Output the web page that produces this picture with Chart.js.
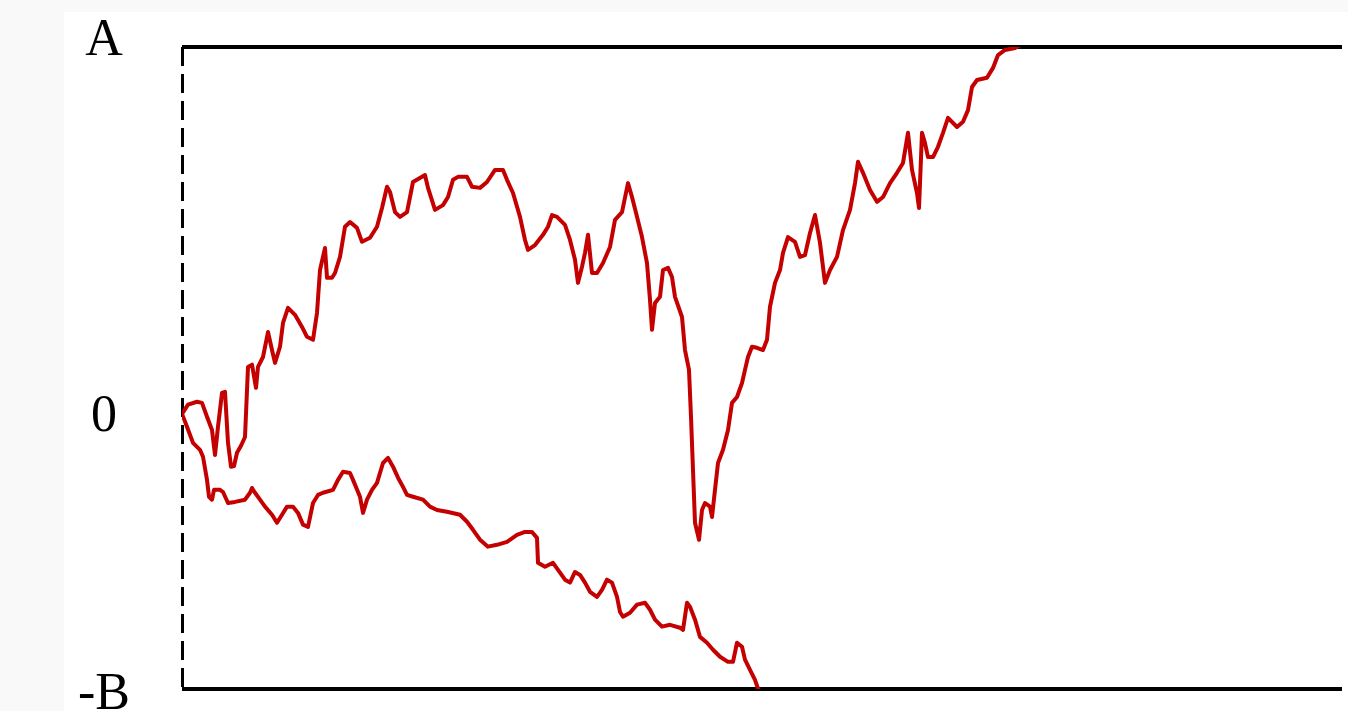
<!DOCTYPE html>
<html>
<head>
<meta charset="utf-8">
<script src="https://cdn.jsdelivr.net/npm/chart.js@4.4.1/dist/chart.umd.min.js"></script>
<style>
  html, body { margin: 0; padding: 0; background: #f9f9f9; overflow: hidden; }
  #panel { position: absolute; left: 64px; top: 12px; right: 0; bottom: 0; background: #ffffff; }
  #wrap { position: absolute; left: 0; top: 0; width: 1348px; height: 711px; }
</style>
</head>
<body>
<div id="panel"></div>
<div id="wrap"><canvas id="c" width="1348" height="711"></canvas></div>
<script>
// Axis scale: the top bound is "A", the bottom bound is "-B"
const tickValues = [-75, 0, 100];
const tickLabels = ['-B', '0', 'A'];
// small vertical nudge of each axis label (px, positive = down)
const tickNudge = [6, 3, -6];
const dayMax = 1160;

// Upper path: days since start and value
const upperDays = [
  0, 6, 15, 20, 25, 30, 33, 36, 40, 43,
  46, 49, 52, 55, 59, 63, 66, 70, 74, 76,
  81, 86, 90, 93, 98, 101, 106, 113, 120, 125,
  131, 135, 138, 143, 145, 150, 153, 158, 163, 168,
  175, 180, 188, 195, 200, 205, 208, 213, 218, 225,
  231, 243, 246, 253, 261, 266, 271, 276, 285, 290,
  298, 305, 313, 321, 325, 331, 338, 343, 346, 353,
  361, 366, 370, 375, 383, 388, 393, 396, 400, 403,
  406, 410, 415, 421, 428, 433, 440, 446, 450, 455,
  460, 465, 468, 470, 473, 478, 481, 486, 490, 493,
  500, 503, 507, 509, 511, 513, 517, 520, 523, 528,
  530, 533, 536, 541, 546, 550, 555, 560, 563, 566,
  570, 575, 581, 585, 588, 593, 598, 601, 606, 613,
  618, 623, 628, 633, 638, 643, 648, 655, 661, 668,
  673, 676, 681, 688, 695, 701, 708, 715, 721, 726,
  730, 735, 737, 740, 743, 746, 751, 756, 761, 766,
  775, 781, 786, 790, 795, 805, 811, 816, 823, 833,
  838
];
const upperValues = [
  0, 2.5, 3.3, 3.0, -0.8, -4.4, -11.2, -3.5, 5.7, 6.0,
  -7.9, -14.4, -14.2, -10.6, -8.7, -6.3, 12.8, 13.4, 7.1, 12.8,
  15.5, 22.3, 17.4, 13.9, 18.3, 24.8, 28.9, 27.0, 23.7, 21.0,
  20.2, 27.5, 39.2, 45.2, 37.1, 37.1, 38.4, 42.8, 51.0, 52.3,
  50.7, 46.9, 48.0, 51.0, 56.1, 61.9, 60.5, 55.0, 53.7, 55.0,
  63.2, 65.1, 61.6, 55.6, 56.9, 59.1, 63.8, 64.6, 64.6, 61.9,
  61.6, 63.2, 66.5, 66.5, 63.8, 60.2, 53.7, 47.4, 44.7, 46.0,
  48.8, 51.0, 54.2, 53.7, 51.5, 47.4, 42.0, 35.7, 40.1, 43.9,
  48.8, 38.4, 38.4, 41.1, 45.5, 52.9, 55.0, 62.9, 59.1, 53.7,
  48.2, 41.1, 31.1, 22.9, 30.2, 31.9, 39.2, 39.8, 37.3, 31.9,
  26.4, 17.4, 12.0, -0.8, -15.3, -29.7, -34.3, -26.2, -24.3, -25.3,
  -28.1, -20.7, -13.4, -9.8, -4.4, 3.0, 4.6, 8.4, 12.0, 15.5,
  18.3, 18.0, 17.4, 20.2, 29.2, 35.7, 39.2, 43.9, 48.2, 46.9,
  42.8, 43.3, 49.3, 54.2, 46.6, 35.7, 39.2, 42.8, 50.1, 55.6,
  62.9, 68.7, 65.7, 61.0, 57.8, 59.1, 62.9, 65.7, 68.4, 76.6,
  66.5, 60.2, 56.1, 76.6, 73.8, 70.0, 70.0, 72.8, 76.6, 80.7,
  78.2, 79.6, 82.8, 89.1, 91.0, 91.6, 94.3, 97.8, 99.2, 99.7,
  100.5
];

// Lower path: days since start and value
const lowerDays = [
  0, 5, 11, 18, 21, 25, 27, 30, 32, 38,
  41, 46, 53, 63, 68, 70, 73, 78, 83, 90,
  95, 100, 105, 111, 116, 121, 126, 131, 136, 141,
  151, 156, 161, 168, 171, 178, 181, 185, 190, 195,
  198, 201, 206, 211, 216, 221, 225, 231, 241, 248,
  255, 265, 278, 285, 291, 298, 306, 315, 325, 335,
  343, 350, 355, 356, 363, 371, 378, 383, 388, 393,
  398, 403, 408, 415, 420, 425, 430, 435, 438, 441,
  448, 455, 463, 468, 473, 480, 488, 498, 501, 505,
  508, 513, 518, 525, 531, 538, 546, 551, 555, 560,
  563, 568, 573, 576
];
const lowerValues = [
  0, -3.5, -7.9, -9.8, -11.7, -18.0, -22.6, -23.4, -20.7, -20.7,
  -21.3, -24.3, -24.0, -23.4, -21.5, -20.2, -21.5, -23.4, -25.3, -27.5,
  -29.7, -27.5, -25.3, -25.3, -27.0, -30.2, -30.8, -24.3, -22.1, -21.5,
  -20.7, -18.0, -15.8, -16.1, -18.0, -22.6, -27.0, -23.4, -20.7, -18.8,
  -16.1, -13.4, -12.0, -14.4, -17.4, -19.9, -22.1, -22.6, -23.4, -25.3,
  -26.2, -26.7, -27.5, -29.4, -31.6, -34.3, -36.2, -35.7, -34.9, -33.0,
  -32.2, -32.2, -33.8, -40.6, -41.7, -40.6, -43.3, -45.2, -46.0, -43.1,
  -43.9, -46.0, -48.5, -49.9, -48.0, -45.2, -46.0, -49.9, -54.0, -55.3,
  -54.2, -52.0, -51.5, -53.4, -56.1, -58.0, -57.5, -58.3, -58.9, -51.5,
  -52.6, -56.1, -60.8, -62.4, -64.3, -66.2, -67.6, -67.6, -62.4, -63.5,
  -67.0, -69.8, -72.5, -74.9
];

const lineRed = '#c40000';
const toPoints = (days, values) => days.map((d, i) => ({ x: d, y: values[i] }));

const lineStyle = {
  borderColor: lineRed,
  borderWidth: 4,
  borderJoinStyle: 'round',
  borderCapStyle: 'round',
  pointRadius: 0,
  tension: 0,
  fill: false
};

new Chart(document.getElementById('c'), {
  type: 'line',
  data: {
    datasets: [
      Object.assign({ data: toPoints(upperDays, upperValues) }, lineStyle),
      Object.assign({ data: toPoints(lowerDays, lowerValues) }, lineStyle)
    ]
  },
  options: {
    responsive: false,
    animation: false,
    devicePixelRatio: 1,
    layout: { padding: { left: 0, top: 47, right: 6, bottom: 22 } },
    plugins: { legend: { display: false }, tooltip: { enabled: false } },
    scales: {
      x: {
        type: 'linear',
        position: 'bottom',
        min: 0,
        max: dayMax,
        afterBuildTicks: (scale) => { scale.ticks = [{ value: 0 }]; },
        afterFit: (scale) => { scale.height = 0; scale.paddingLeft = 0; scale.paddingRight = 0; },
        ticks: { display: false },
        grid: { display: true, drawTicks: false, drawOnChartArea: true, color: '#000', lineWidth: 3 },
        border: { display: false, dash: [19, 8] }
      },
      y: {
        type: 'linear',
        min: tickValues[0],
        max: tickValues[tickValues.length - 1],
        afterBuildTicks: (scale) => { scale.ticks = tickValues.map(v => ({ value: v })); },
        afterFit: (scale) => { scale.width = 182; scale.paddingTop = 0; scale.paddingBottom = 0; },
        ticks: {
          autoSkip: false,
          crossAlign: 'center',
          padding: 52,
          color: '#000',
          // a two-line label whose empty line sits above or below moves the text by half a line
          font: (ctx) => {
            const i = ctx.tick ? tickValues.indexOf(ctx.tick.value) : -1;
            const n = i >= 0 ? Math.abs(tickNudge[i]) * 2 : 0;
            return { family: 'Liberation Serif', size: 52, weight: 'normal', lineHeight: n > 0 ? n + 'px' : 1.2 };
          },
          callback: (value) => {
            const i = tickValues.indexOf(value);
            if (i < 0) return '';
            const nudge = tickNudge[i];
            if (nudge > 0) return ['', tickLabels[i]];
            if (nudge < 0) return [tickLabels[i], ''];
            return tickLabels[i];
          }
        },
        grid: {
          display: true,
          drawTicks: false,
          lineWidth: 4,
          color: (ctx) => (ctx.tick && ctx.tick.value === 0 ? 'rgba(0,0,0,0)' : '#000')
        },
        border: { display: false }
      }
    }
  }
});
</script>
</body>
</html>
